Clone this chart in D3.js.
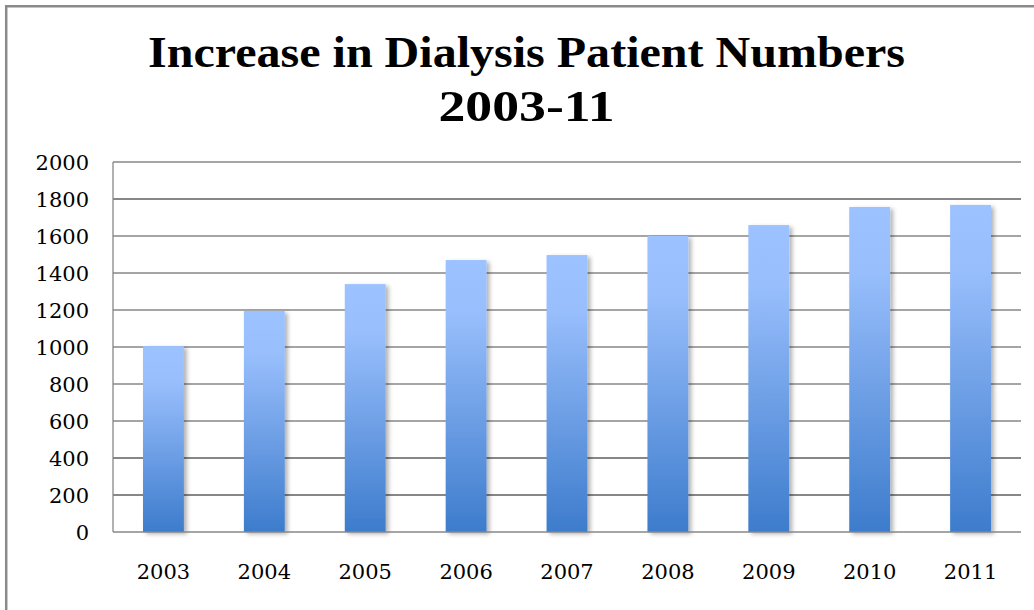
<!DOCTYPE html>
<html>
<head>
<meta charset="utf-8">
<script src="https://cdn.jsdelivr.net/npm/d3@7"></script>
<style>
  body { margin: 0; background: #fff; }
  svg { display: block; }
</style>
</head>
<body>
<div id="chart"></div>
<script>
const years = ["2003", "2004", "2005", "2006", "2007", "2008", "2009", "2010", "2011"];
const patients = [1005, 1195, 1340, 1470, 1497, 1600, 1659, 1757, 1768];
const yTicks = [0, 200, 400, 600, 800, 1000, 1200, 1400, 1600, 1800, 2000];
const titleLines = ["Increase in Dialysis Patient Numbers", "2003-11"];

const width = 1034, height = 610;
const margin = { top: 162, right: 13, bottom: 78, left: 113 };

const svg = d3.select("#chart").append("svg")
    .attr("width", width)
    .attr("height", height);

const defs = svg.append("defs");
const grad = defs.append("linearGradient")
    .attr("id", "barGrad")
    .attr("x1", 0).attr("y1", 0).attr("x2", 0).attr("y2", 1);
grad.append("stop").attr("offset", "0").attr("stop-color", "#9cc2ff");
grad.append("stop").attr("offset", "0.2").attr("stop-color", "#98befc");
grad.append("stop").attr("offset", "1").attr("stop-color", "#3d7ccc");

const shadow = defs.append("filter")
    .attr("id", "barShadow")
    .attr("x", "-20%").attr("y", "-5%").attr("width", "150%").attr("height", "115%");
shadow.append("feDropShadow")
    .attr("dx", 3).attr("dy", 2)
    .attr("stdDeviation", 2)
    .attr("flood-color", "#000")
    .attr("flood-opacity", 0.3);

// outer chart frame (only top and left edges are in view)
svg.append("path")
    .attr("d", `M6.2,${height} V6.2 H${width}`)
    .attr("fill", "none")
    .attr("stroke", "#8a8a8a")
    .attr("stroke-width", 2.5);

// title, squeezed like the original
const titleSpec = [
    { y: 67, len: 757 },
    { y: 121, len: 176 }
];
svg.append("g")
    .selectAll("text")
    .data(titleLines)
    .enter().append("text")
    .attr("x", 526.5)
    .attr("y", (d, i) => titleSpec[i].y)
    .attr("text-anchor", "middle")
    .attr("textLength", (d, i) => titleSpec[i].len)
    .attr("lengthAdjust", "spacingAndGlyphs")
    .style("font-family", "'Liberation Serif', serif")
    .style("font-weight", "bold")
    .style("font-size", "44px")
    .style("fill", "#000")
    .text(d => d);

const x = d3.scaleBand()
    .domain(years)
    .range([margin.left, width - margin.right])
    .paddingInner(0.595)
    .paddingOuter(0.2975);

const y = d3.scaleLinear()
    .domain([0, 2000])
    .range([height - margin.bottom, margin.top]);

// gridlines (some came out thicker in the original)
const thickLines = [200, 400, 1800];
svg.append("g")
    .selectAll("line")
    .data(yTicks.filter(d => d > 0))
    .enter().append("line")
    .attr("x1", margin.left)
    .attr("x2", width - margin.right)
    .attr("y1", d => y(d))
    .attr("y2", d => y(d))
    .attr("stroke", "#878787")
    .attr("stroke-width", d => thickLines.includes(d) ? 1.8 : 1.3);

// bars
svg.append("g")
    .selectAll("rect")
    .data(patients)
    .enter().append("rect")
    .attr("x", (d, i) => x(years[i]))
    .attr("y", d => y(d))
    .attr("width", x.bandwidth())
    .attr("height", d => y(0) - y(d))
    .attr("fill", "url(#barGrad)")
    .attr("filter", "url(#barShadow)");

// axis lines
svg.append("line")
    .attr("x1", margin.left).attr("x2", margin.left)
    .attr("y1", y(2000)).attr("y2", y(0))
    .attr("stroke", "#878787")
    .attr("stroke-width", 1.3);
svg.append("line")
    .attr("x1", margin.left).attr("x2", width - margin.right)
    .attr("y1", y(0)).attr("y2", y(0))
    .attr("stroke", "#878787")
    .attr("stroke-width", 1.7);

// y tick labels
svg.append("g")
    .selectAll("text")
    .data(yTicks)
    .enter().append("text")
    .attr("x", 89)
    .attr("y", d => y(d))
    .attr("dy", "0.36em")
    .attr("text-anchor", "end")
    .style("font-family", "'DejaVu Serif', serif")
    .style("font-size", "21px")
    .style("fill", "#000")
    .text(d => d);

// x labels
svg.append("g")
    .selectAll("text")
    .data(years)
    .enter().append("text")
    .attr("x", d => x(d) + x.bandwidth() / 2)
    .attr("y", 579)
    .attr("text-anchor", "middle")
    .style("font-family", "'DejaVu Serif', serif")
    .style("font-size", "21px")
    .style("fill", "#000")
    .text(d => d);
</script>
</body>
</html>
